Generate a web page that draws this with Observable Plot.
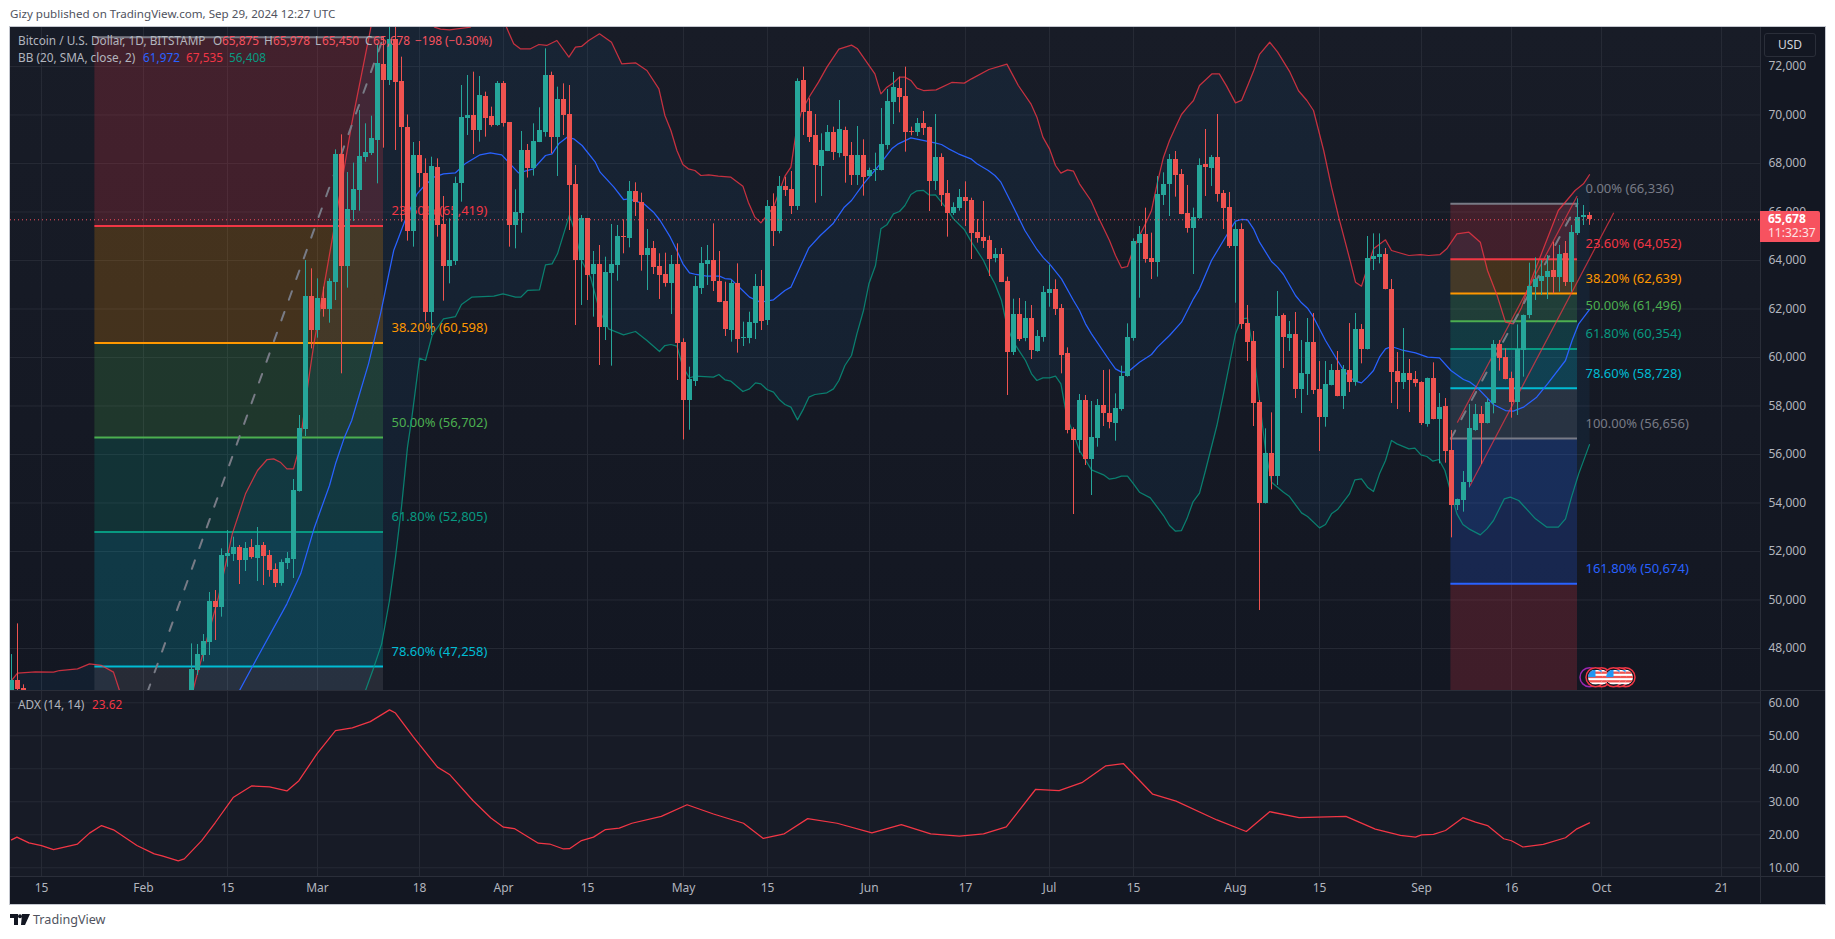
<!DOCTYPE html>
<html><head><meta charset="utf-8">
<script src="https://cdn.jsdelivr.net/npm/d3@7"></script>
<script src="https://cdn.jsdelivr.net/npm/@observablehq/plot@0.6"></script>
<style>
html,body{margin:0;padding:0;background:#fff;width:1835px;height:939px;overflow:hidden;font-family:"Noto Sans",sans-serif}
.a{position:absolute;white-space:pre;line-height:1}
.a span{position:absolute;top:0}
svg{overflow:visible}
</style></head><body>
<div class="a" style="left:9px;top:26px;width:1815px;height:877px;border:1px solid #c4c7cf;background:#131722"></div>
<div class="a" style="left:10px;top:27px;width:1750px;height:663px;background:linear-gradient(#181c27,#131722)"></div>
<div class="a" style="left:10px;top:690px;width:1750px;height:186px;background:#171b26"></div>
<div id="price" class="a" style="left:10px;top:27px"></div>
<div id="adx" class="a" style="left:10px;top:690px"></div>
<div class="a" style="left:10px;top:690px;width:1815px;height:1px;background:#2a2e39"></div>
<div class="a" style="left:10px;top:876px;width:1815px;height:1px;background:#2a2e39"></div>
<div class="a" style="left:1760px;top:27px;width:1px;height:876px;background:#2a2e39"></div>
<div class="a" style="left:10px;top:8px;font-size:11.6px;color:#50535e">Gizy published on TradingView.com, Sep 29, 2024 12:27 UTC</div>
<div id="leg1" class="a" style="left:18px;top:35px;font-size:11.8px;color:#b2b5be"></div>
<div id="leg2" class="a" style="left:18px;top:52px;font-size:11.8px;color:#b2b5be"></div>
<div id="leg3" class="a" style="left:18px;top:699px;font-size:11.8px;color:#b2b5be"></div>
<div class="a" style="left:1764px;top:33px;width:50px;height:22px;border:1px solid #2a2e39;border-radius:3px;color:#d1d4dc;font-size:12px;text-align:center;line-height:22px">USD</div>
<div class="a" style="left:1760px;top:211px;width:60px;height:31px;background:#f7525f;border-radius:0 2px 2px 0"></div>
<div class="a" style="left:1768px;top:213px;font-size:12px;font-weight:700;color:#fff">65,678</div>
<div class="a" style="left:1768px;top:227px;font-size:12px;color:#fde3e5">11:32:37</div>
<svg class="a" style="left:10px;top:913px" width="20" height="14" viewBox="0 0 20 14"><path d="M0 1h8v11H4V5H0z M12 1h8l-5 11h-4z" fill="#131722"/><circle cx="10" cy="3.2" r="2" fill="#131722"/></svg>
<div class="a" style="left:33px;top:914px;font-size:12.6px;color:#50535e">TradingView</div>
<script>
// [day of 2024, open, high, low, close]
const candles = [
[10,46100,47750,44300,46680],[11,46680,49016,45000,46290],[12,46350,46500,41500,42850],
[40,45300,48190,45000,47133],[41,47092,48164,46886,47752],[42,47697,48577,47450,48287],[43,48260,50309,47711,49937],[44,49937,50391,48330,49690],[45,49690,52109,49292,51835],[46,51793,52865,51353,51903],[47,51876,52590,51587,52178],[48,52178,52247,50638,51628],[49,51628,52370,51174,52123],
[50,52165,52494,51683,51738],[51,51711,52989,50762,52247],[52,52247,52370,50597,51793],[53,51835,52041,50941,51216],[54,51257,51491,50515,50680],[55,50680,51656,50570,51546],[56,51491,51958,51257,51711],[57,51670,54969,50886,54515],[58,54474,57608,54450,57072],[59,57044,64000,56740,62515],
[60,62515,63656,60357,61113],[61,61113,63244,60797,62433],[62,62433,62900,61663,61993],[63,61993,63244,61415,63134],[64,63106,68563,62350,68371],[65,68371,69182,59326,63752],[66,63752,67629,62859,66103],[67,66062,68014,65608,66928],[68,66887,70185,66034,68289],[69,68247,69636,68055,68454],
[70,68399,69952,68330,69031],[71,68948,72935,67161,72137],[72,72083,73210,68632,71423],[73,71423,73622,71216,73100],[74,73100,73800,68536,71354],[75,71381,72385,65580,69498],[76,69485,70000,64797,65196],[77,65196,68866,64550,68330],[78,68330,68907,67000,67588],[79,67588,68192,61456,61856],
[80,61856,68260,60907,67876],[81,67835,68192,64962,65443],[82,65484,66639,62323,63752],[83,63752,65718,63037,64000],[84,63972,67436,63794,67189],[85,67189,71216,66405,69897],[86,69869,71629,69155,69979],[87,69979,71766,68371,69361],[88,69361,71588,68880,70804],[89,70763,70942,69086,69869],
[90,69938,70323,69500,69567],[91,69567,71381,69530,71299],[92,71299,71381,69500,69663],[93,69690,69690,64550,65443],[94,65443,66914,64481,65979],[95,65952,69320,65127,68536],[96,68536,68783,67400,67780],[97,67780,69636,67478,68907],[98,68866,70296,68860,69361],[99,69278,72729,69086,71629],
[100,71629,71766,68399,69072],[101,69072,71148,67464,70639],[102,70639,71285,69155,69979],[103,70021,71216,65237,67093],[104,67134,67918,61320,64000],[105,64000,65856,62145,65732],[106,65732,65732,62350,63381],[107,63422,64371,61663,63835],[108,63835,64618,59670,61237],[109,61237,64137,60700,63505],
[110,63464,65484,59642,63835],[111,63794,65443,63147,64989],[112,64989,65677,64275,64962],[113,64907,67258,64522,66845],[114,66845,67203,65815,66392],[115,66392,66776,63560,64206],[116,64206,65278,62763,64495],[117,64495,64784,63422,63711],[118,63752,64275,62392,63381],[119,63422,64302,62900,63051],
[120,63051,64206,61773,63835],[121,63835,64687,59052,60590],[122,60618,60770,56600,58227],[123,58227,59601,57000,59093],[124,59010,63340,58804,62927],[125,62845,64536,62598,63876],[126,63835,64618,62969,64000],[127,64000,65512,62721,63134],[128,63134,64371,62260,62268],[129,62309,63106,60866,61155],
[130,61113,63175,60632,63051],[131,63051,63862,60179,60742],[132,60783,61457,60453,60825],[133,60783,61869,60563,61443],[134,61402,63422,60742,62927],[135,62927,63587,61113,61484],[136,61525,66474,61320,66227],[137,66227,66749,64577,65196],[138,65196,67464,65100,67051],[139,67051,67436,66639,66887],
[140,66928,67670,65897,66227],[141,66227,71491,66062,71381],[142,71423,71972,69155,70103],[143,70144,70667,68866,69072],[144,69155,70020,66364,67918],[145,67876,69223,66639,68536],[146,68495,69567,68490,69278],[147,69278,69498,68124,68454],[148,68412,70598,68234,69402],[149,69361,69498,67189,68289],
[150,68330,68866,67093,67505],[151,67505,69526,67093,68330],[152,68330,68976,66653,67423],[153,67464,67807,67440,67711],[154,67711,68426,67258,67752],[155,67711,70268,67690,68783],[156,68742,71052,68563,70557],[157,70516,71753,69608,71134],[158,71093,71560,70089,70722],[159,70763,71972,68468,69278],
[160,69320,69500,69140,69278],[161,69278,69856,69113,69649],[162,69649,70144,69155,69443],[163,69485,69500,66020,67258],[164,67258,70020,66887,68247],[165,68247,68399,66227,66680],[166,66763,67299,64962,65938],[167,65938,66378,65856,66186],[168,66144,66928,66035,66598],[169,66598,67244,65402,66433],
[170,66474,66570,64041,65113],[171,65155,65691,64715,64907],[172,64948,66433,64495,64783],[173,64825,65003,63340,64041],[174,64082,64495,63904,64247],[175,64247,64495,63090,63093],[176,63134,63312,58433,60206],[177,60206,62405,60083,61773],[178,61773,62433,60659,60742],[179,60783,62309,60650,61608],
[180,61608,62144,59917,60289],[181,60247,61113,60220,60866],[182,60825,62928,60632,62680],[183,62625,63794,62075,62804],[184,62804,63203,61732,61979],[185,62020,62186,59326,60082],[186,60151,60398,56852,56990],[187,57030,57100,53525,56577],[188,56577,58474,56055,58227],[189,58227,58433,55546,55793],
[190,55793,58185,54309,56701],[191,56660,58268,56302,58020],[192,58020,59464,57154,57690],[193,57690,59491,57058,57319],[194,57278,58501,56549,57896],[195,57855,59642,57786,59216],[196,59216,61388,59190,60825],[197,60783,64893,60673,64783],[198,64701,65402,62446,65072],[199,65072,66158,63890,64041],
[200,64082,65127,63216,63917],[201,63917,67464,63313,66722],[202,66680,67615,66268,67134],[203,67134,68371,65814,68165],[204,68165,68495,66612,67505],[205,67546,67752,65890,65897],[206,65938,67093,65127,65319],[207,65319,66158,63422,65773],[208,65718,68192,65700,67918],[209,67959,69402,66639,67835],
[210,67794,68330,67052,68247],[211,68247,70021,66406,66722],[212,66763,66887,65278,66144],[213,66186,66804,64495,64577],[214,64577,65553,62240,65278],[215,65278,65512,61155,61361],[216,61402,62144,59835,60618],[217,60660,61072,57154,58103],[218,58144,58227,49566,53979],[219,53979,57058,53960,56040],
[220,56040,57717,54542,55092],[221,55092,62721,54721,61690],[222,61731,61800,59546,60824],[223,60783,61484,60247,60948],[224,60948,61855,58308,58680],[225,58680,60700,57690,59340],[226,59298,61608,58432,60618],[227,60618,61814,58473,58639],[228,58680,59834,56123,57525],[229,57525,59834,57126,58886],
[230,58845,59711,58830,59463],[231,59463,60247,58380,58391],[232,58391,59669,57855,59505],[233,59463,61401,58556,58968],[234,58968,61814,58817,61154],[235,61154,61360,59738,60329],[236,60329,64989,60310,64082],[237,64041,65099,63587,64164],[238,64123,65099,63862,64247],[239,64247,64494,62790,62803],
[240,62803,63216,58102,59381],[241,59422,60205,57855,58968],[242,58968,61195,58680,59340],[243,59340,59917,57731,59051],[244,59092,59422,58776,58927],[245,58968,59000,57195,57278],[246,57236,59150,57126,59133],[247,59133,59779,57430,57443],[248,57443,58515,55614,57937],[249,57978,58308,55642,56123],
[250,56164,56989,52563,53896],[251,53897,54160,53690,54144],[252,54103,55298,53622,54845],[253,54845,58061,54625,57072],[254,56989,58061,56960,57649],[255,57649,57979,55587,57278],[256,57278,58295,57260,58144],[257,58103,60701,57677,60536],[258,60536,60701,59436,59958],[259,60000,60357,59080,59093],
[260,59134,59395,57498,58144],[261,58144,61347,57608,60330],[262,60289,61750,59189,61732],[263,61732,63890,61594,62928],[264,62887,64110,62351,63216],[265,63134,64000,62557,63340],[266,63299,64206,62392,63546],[267,63587,64756,62625,63299],[268,63299,64619,62694,64247],[269,64289,64783,62928,63093],
[270,63093,65443,62694,65155],[271,65113,66543,65031,65773],[272,65787,66268,65443,65875],[273,65875,65978,65450,65678]
];
const bbUpper = [[10,46680],[11,46983],[14,47038],[17,47024],[18,47092],[21,47162],[23,47368],[25,47300],[27,47024],[28,46268],[34,44500],[40,46000],[40.6,46611],[44.5,50116],[46.8,52728],[49,54378],[51,55340],[52.6,55793],[53.7,55821],[54.8,55683],[55.9,55408],[57,55408],[58,56302],[59.5,59052],[60.4,60563],[63.7,65237],[66.7,69636],[69.8,73485],[72,76500],[76,79000],[79,75000],[80.5,73620],[81.5,73540],[83,73510],[86.5,73620],[88,75000],[90,75500],[92,74000],[92.6,73553],[93.7,72935],[94.8,72729],[96.5,72729],[97.9,72907],[99.2,72866],[100.9,73072],[102.9,72385],[104,72797],[105,72825],[106.2,73072],[108,73347],[110,73004],[111.7,72110],[114,72151],[115.9,71835],[117.9,71079],[118.9,69979],[119.9,69361],[120.9,68536],[121.9,67959],[122.8,67780],[123.9,67711],[124.9,67505],[126.2,67533],[127.8,67478],[129.9,67436],[131.9,67065],[132.8,66405],[133.9,65787],[134.9,65553],[135.9,65856],[137,66199],[138.9,67478],[139.9,67849],[140.9,69498],[141.7,70185],[143.1,70804],[144.5,71354],[145.9,71973],[147.9,72715],[150,72880],[151,72729],[153,72014],[153.9,71698],[154.9,70873],[155.9,71148],[157,71327],[158,71560],[158.9,71560],[159.9,71423],[160.9,71107],[162,71010],[164.1,71038],[166.7,71340],[168.8,71313],[170,71491],[172.9,71876],[175.9,72096],[177.8,71216],[179.9,70460],[180.9,69910],[181.9,69086],[183,68605],[184,67917],[184.9,67601],[186,67739],[187,67684],[188,67161],[189.9,66474],[191,65856],[193,64825],[194,64206],[195,63698],[196,63752],[196.9,64412],[198,65031],[199,65512],[200,66062],[201,67230],[202,68261],[203,68948],[204,69498],[205,70021],[206,70323],[207,70598],[208,71217],[210.1,71698],[211.3,71698],[212.5,71200],[214,70500],[215,70600],[216,71200],[217,71800],[218,72500],[219.7,73000],[221,72600],[223,71800],[224.5,71000],[225.9,70598],[227,70186],[228.7,68536],[230,67024],[231.2,65787],[233.1,64000],[234,63106],[235,62941],[237,64481],[239,64852],[240,64412],[242.9,64206],[244.8,64247],[246.2,64206],[248.1,64247],[249.2,64481],[250.9,65099],[252.9,65168],[254.8,64756],[256,63588],[257.6,62557],[259,61457],[260.3,61388],[261.7,62075],[262.6,62762],[267.8,66061],[270.6,66886],[272,67161],[273,67535]];
const bbMiddle = [[48,46268],[51,47642],[55.9,49842],[58.2,51079],[60.5,53003],[63,54722],[64,55616],[65.5,56715],[66.7,57400],[69.5,59738],[71.5,61800],[73.7,64412],[75.6,65650],[77.6,66749],[78.7,67051],[80.4,67436],[82,67574],[84,67615],[85.6,67986],[88.1,68357],[89.8,68440],[91.7,68357],[93.1,67986],[94.5,67615],[97,67780],[99,68330],[100.1,68399],[101.2,68811],[102.6,69086],[103.7,69017],[105.1,68742],[107.3,68055],[108.1,67643],[110.4,67024],[112,66515],[112.9,66543],[115.4,66337],[117,65993],[118.1,65649],[119.8,64962],[120.9,64412],[121.9,63862],[123,63491],[124.1,63423],[125.9,63354],[128,63354],[128.9,63257],[129.9,63230],[131,62969],[133,62488],[134.8,62282],[137,62378],[138.9,62763],[139.9,62900],[142.9,64522],[144.8,65030],[146.9,65512],[148.8,66199],[150,66474],[152,67162],[154.8,67986],[156.7,68605],[157.8,68811],[159.9,69058],[160.9,69003],[163.9,68853],[165,68784],[166.2,68605],[167.8,68399],[169.9,68192],[170.9,67986],[172.8,67711],[173.9,67505],[174.9,67230],[177,66199],[178.9,65237],[180.9,64454],[182,64110],[183,63862],[185,63244],[187,62350],[188,61938],[189,61388],[190,60976],[193,59876],[194,59532],[195,59395],[196,59395],[198,59807],[200,60123],[201,60426],[203,60907],[205,61457],[207,62419],[208,62831],[210,64000],[212,64825],[213,65237],[214,65622],[215,65691],[216,65677],[217,65306],[218,64756],[220,63959],[221,63725],[222,63423],[224,62557],[225,62254],[226,62034],[227,61663],[229,60701],[231,59876],[232,59491],[233,59189],[234,59024],[235,58955],[236,59189],[237,59464],[238,60014],[239,60357],[240,60453],[242,60289],[244,60192],[246,60014],[248,59986],[249.9,59464],[252,59093],[253.1,58983],[254.2,58777],[257,58062],[259,57814],[260.3,57786],[262,57952],[264.2,58364],[266,58914],[269,59876],[270.1,60701],[271.2,61388],[273,61972]];
const bbLower = [[10,39000],[40,40000],[69,46268],[70.4,47230],[71.7,48192],[73,49979],[74,51767],[75,53828],[76,56302],[76.7,57470],[78,59972],[79,59876],[80.1,60907],[82,61594],[84,61690],[85,62185],[86.7,62487],[90.4,62529],[91.9,62625],[94,62487],[94.9,62487],[96,62763],[98,62790],[99,63821],[100.1,63862],[101,64275],[103,65883],[104,65100],[105,64000],[106.5,63312],[108,61938],[109.5,61182],[112,60935],[114,61072],[115.9,60700],[118,60247],[118.9,60494],[119.9,60536],[120.9,60467],[121.9,59601],[123,59162],[124,59230],[127,59189],[127.9,59299],[128.9,59079],[129.9,59024],[131.9,58598],[133,58707],[134,58955],[134.9,58913],[135.9,58680],[137,58570],[138,58254],[138.9,58062],[139.9,57952],[141,57429],[142,57883],[142.9,58364],[143.9,58474],[145.9,58543],[147,58707],[147.9,59052],[148.9,59670],[150,60082],[150.9,60976],[152,61938],[152.9,63038],[154,63794],[154.9,65306],[155.9,65471],[157,65924],[158,66020],[158.9,66268],[159.9,66722],[160.9,66873],[162,66887],[163,66694],[164,66708],[165.9,66130],[167,65718],[168.8,65278],[170,64756],[172,64000],[173,63450],[173.9,63038],[175,62350],[175.9,61320],[177,60632],[179,59876],[180,59326],[180.9,59052],[181.9,59162],[183,59162],[184,59230],[184.9,58914],[185.9,57539],[187,56852],[188,56164],[190,55367],[192,55161],[193,54982],[194,55023],[195,55106],[196,55106],[197,54789],[198,54446],[199.8,54212],[202,53484],[203,53071],[204,52837],[205,52865],[205.9,53346],[206.9,54034],[208,54405],[209,55339],[210.9,57195],[212,58501],[213,59738],[214,60976],[215,61594],[216,61621],[217,60288],[218,58226],[219,56164],[220,54859],[222,54446],[223,54267],[225,53593],[226,53442],[228,52975],[229,53112],[230,53552],[231,53731],[233,54377],[233.9,54955],[235,54996],[236,54653],[237,54474],[238,55202],[239,55752],[240,56577],[240.9,56439],[242.9,56233],[243.9,56260],[244.9,55985],[245.9,55917],[246.9,55725],[247.9,55793],[248.9,55340],[249.8,54514],[250.9,53552],[251.9,53112],[252.9,52934],[254.8,52687],[255.9,52934],[257,53278],[258.8,54171],[259.8,54240],[261.2,54103],[264,53346],[265.9,53003],[267.8,53003],[269,53346],[270,54240],[271.2,55202],[273,56408]];
const adxValues = [[10,18.46],[10.9,19.3],[12.9,17.55],[15,16.74],[17,15.5],[21,17.2],[23,20.5],[25,22.8],[27,21.5],[30.9,16.74],[33.8,14.2],[35.1,13.6],[37.8,12.1],[38.8,12.7],[41.7,18.25],[44,23.8],[47,31.4],[50,34.8],[53,34.5],[55.9,33.3],[57.9,36.4],[60.9,44.5],[64,51.6],[66.8,52.4],[69.8,54.3],[73,57.85],[74,56.9],[77,49.6],[81,40.5],[83,38.3],[86.9,30.4],[89.9,25.1],[92,22.3],[93.8,21.9],[97.8,17.45],[99.7,17.2],[102,15.7],[103,15.8],[105,18.25],[107,19.3],[109,21.6],[111.3,22],[113.4,23.5],[118.3,25.6],[122.6,29.1],[127,26.3],[132,23.5],[135.3,18.9],[138.8,20.3],[142.7,24.9],[147.6,23.5],[153.4,20.6],[158.3,23.1],[163.2,20.3],[168,19.6],[172,20.3],[175.8,22.4],[180.7,33.8],[184.6,33.4],[188.5,35.9],[192.4,40.9],[195.3,41.6],[200.2,32.3],[204.1,30.2],[210.9,24.5],[215.8,21],[219.7,27],[224.6,25.2],[232.4,25.6],[237.3,21.7],[241.5,19.8],[244,19.3],[245,20],[247,20.1],[249,21.3],[251.9,25.2],[254,23.85],[256,22.8],[258.7,18.8],[260,18.2],[261.9,16.3],[265.3,17.1],[269,19.1],[270.9,21.8],[273,23.62]];

const xTicks = [15,32,46,61,78,92,106,122,136,153,169,183,197,214,228,245,260,275,295];
const xTickLabels = ["15","Feb","15","Mar","18","Apr","15","May","15","Jun","17","Jul","15","Aug","15","Sep","16","Oct","21"];
const priceTicks = d3.range(48000,72001,2000);
const adxTicks = [10,20,30,40,50,60];
const lastPrice = 65678;

const fibLevelNames = ["0.00%","23.60%","38.20%","50.00%","61.80%","78.60%","100.00%","161.80%"];
const fibColors = ["#787b86","#f23645","#ff9800","#4caf50","#089981","#00bcd4","#787b86","#2962ff"];
const bandColors = ["#f23645","#ff9800","#4caf50","#089981","#00bcd4","#787b86","#2962ff","#f23645"];
const leftFibSpan = [23.9,72];
const leftFibLevels = [73211,65419,60598,56702,52805,47258,40192];
const rightFibSpan = [249.9,271];
const rightFibLevels = [66336,64052,62639,61496,60354,58728,56656,50674,40990];
const leftTrend = [[23.9,40192],[72,73211]];
const rightTrend = [[249.9,56656],[271,66336]];
const channelUpper = [[251,57333],[270.9,66639]];
const channelLower = [[253.1,54721],[277,65951]];
const eventRows = [[273,"#9c27b0"],[279,"#f23645"],[278,"#f23645"],[275,"#f23645"],[277,"#f23645"],[274,"#f23645"]];
const eventPrice = 46817;
const flagSvg = `<svg xmlns="http://www.w3.org/2000/svg" viewBox="0 0 16 16"><defs><clipPath id="c"><circle cx="8" cy="8" r="8"/></clipPath></defs><g clip-path="url(#c)"><rect width="16" height="16" fill="#fff"/><rect y="2" width="16" height="2.4" fill="#ef5350"/><rect y="6.6" width="16" height="2.4" fill="#ef5350"/><rect y="11.2" width="16" height="2.4" fill="#ef5350"/><rect width="8" height="8" fill="#2196f3"/></g></svg>`;
const flagSrc = "data:image/svg+xml," + encodeURIComponent(flagSvg);

const UP="#26a69a", DOWN="#ef5350", GRID="#262a35", TXT="#b2b5be";
const FONT='"Noto Sans",sans-serif';
const xDomain=[9.8333,301.5];
const rows = candles.map(([d,o,h,l,c])=>({d,o,h,l,c,col:c>=o?UP:DOWN}));
const pts = a=>a.map(([d,v])=>({d,v}));
const poly = pts(bbUpper).concat(pts(bbLower).reverse());
function bands(span,lv){return lv.slice(0,-1).map((v,i)=>({x1:span[0],x2:span[1],y1:v,y2:lv[i+1],c:bandColors[i]}));}
function fibLines(span,lv,n){return lv.slice(0,n).map((v,i)=>({x1:span[0],x2:span[1],y:v,c:fibColors[i],
   t:`${fibLevelNames[i]} (${d3.format(",")(v)})`}));}
const leftLines = fibLines(leftFibSpan,leftFibLevels,6);
const rightLines = fibLines(rightFibSpan,rightFibLevels,8);
const lineOpt=(s,o)=>({x:"d",y:"v",stroke:s,strokeWidth:1.25,strokeOpacity:o,clip:true});

const price = Plot.plot({
  width:1815,height:663,marginTop:0,marginBottom:0,marginLeft:0,marginRight:65,
  style:{background:"transparent",fontFamily:FONT,fontSize:"12px"},
  x:{domain:xDomain,axis:null},
  y:{domain:[46268,73608],axis:null},
  marks:[
    Plot.ruleY(priceTicks,{stroke:GRID}),
    Plot.ruleX(xTicks,{stroke:GRID}),
    Plot.line(poly,{x:"d",y:"v",fill:"#2196f3",fillOpacity:0.065,stroke:null,clip:true}),
    Plot.rect(bands(leftFibSpan,leftFibLevels),{x1:"x1",x2:"x2",y1:"y1",y2:"y2",fill:"c",fillOpacity:0.2,clip:true}),
    Plot.rect(bands(rightFibSpan,rightFibLevels),{x1:"x1",x2:"x2",y1:"y1",y2:"y2",fill:"c",fillOpacity:0.2,clip:true}),
    Plot.ruleY(leftLines,{x1:"x1",x2:"x2",y:"y",stroke:"c",strokeWidth:2}),
    Plot.ruleY(rightLines,{x1:"x1",x2:"x2",y:"y",stroke:"c",strokeWidth:2}),
    Plot.text(leftLines.slice(1),{x:"x2",y:"y",text:"t",fill:"c",dx:8,dy:-15,textAnchor:"start",fontSize:13}),
    Plot.text(rightLines,{x:"x2",y:"y",text:"t",fill:"c",dx:8,dy:-15,textAnchor:"start",fontSize:13}),
    Plot.line(pts(bbUpper),lineOpt("#f23645",0.8)),
    Plot.line(pts(bbMiddle),lineOpt("#2962ff",1)),
    Plot.line(pts(bbLower),lineOpt("#089981",0.8)),
    Plot.line(pts(leftTrend),{x:"d",y:"v",stroke:"#787b86",strokeWidth:2,strokeDasharray:"9,13",clip:true}),
    Plot.line(pts(rightTrend),{x:"d",y:"v",stroke:"#787b86",strokeWidth:2,strokeDasharray:"9,13",clip:true}),
    Plot.line(pts(channelUpper),lineOpt("#f23645",0.7)),
    Plot.line(pts(channelLower),lineOpt("#f23645",0.7)),
    Plot.ruleX(rows,{x:"d",y1:"l",y2:"h",stroke:"col",strokeWidth:1,clip:true}),
    Plot.rect(rows,{x1:d=>d.d-1/3,x2:d=>d.d+1/2,y1:"o",y2:"c",fill:"col",clip:true,shapeRendering:"crispEdges"}),
    Plot.ruleY([lastPrice],{stroke:"#f7525f",strokeDasharray:"1,3",strokeWidth:1}),
    Plot.dot(eventRows,{x:d=>d[0],y:()=>eventPrice,r:9.5,fill:"#131722",stroke:d=>d[1],strokeWidth:1.5}),
    Plot.image(eventRows.filter(d=>d[1]!=="#9c27b0"),{x:d=>d[0],y:()=>eventPrice,src:()=>flagSrc,width:15,height:15}),
    Plot.axisY({anchor:"right",ticks:priceTicks,tickSize:0,tickPadding:8,tickFormat:d3.format(","),label:null,fill:TXT}),
  ]
});
document.getElementById("price").appendChild(price);

const adx = Plot.plot({
  width:1815,height:213,marginTop:0,marginBottom:27,marginLeft:0,marginRight:65,
  style:{background:"transparent",fontFamily:FONT,fontSize:"12px"},
  x:{domain:xDomain,axis:null},
  y:{domain:[7.36,63.73],axis:null},
  marks:[
    Plot.ruleY(adxTicks,{stroke:GRID}),
    Plot.ruleX(xTicks,{stroke:GRID}),
    Plot.line(pts(adxValues),{x:"d",y:"v",stroke:"#f23645",strokeWidth:1.25}),
    Plot.axisY({anchor:"right",ticks:adxTicks,tickSize:0,tickPadding:8,tickFormat:d3.format(".2f"),label:null,fill:TXT}),
    Plot.axisX({anchor:"bottom",ticks:xTicks,tickSize:0,tickPadding:7,tickFormat:d=>xTickLabels[xTicks.indexOf(d)],label:null,fill:TXT}),
  ]
});
document.getElementById("adx").appendChild(adx);

const sp=(t,c,x)=>`<span style="color:${c||"#b2b5be"};left:${x-18}px">${t}</span>`, R="#f7525f";
document.getElementById("leg1").innerHTML=sp("Bitcoin / U.S. Dollar, 1D, BITSTAMP",0,18)
  +sp("O",0,213)+sp("65,875",R,222)+sp("H",0,264)+sp("65,978",R,273)+sp("L",0,315)+sp("65,450",R,322)+sp("C",0,365)+sp("65,678",R,373)+sp("−198 (−0.30%)",R,415);
document.getElementById("leg2").innerHTML=sp("BB (20, SMA, close, 2)",0,18)+sp("61,972","#2962ff",143)+sp("67,535","#f23645",186)+sp("56,408","#089981",229);
document.getElementById("leg3").innerHTML=sp("ADX (14, 14)",0,18)+sp("23.62","#f23645",92);
</script>
</body></html>
